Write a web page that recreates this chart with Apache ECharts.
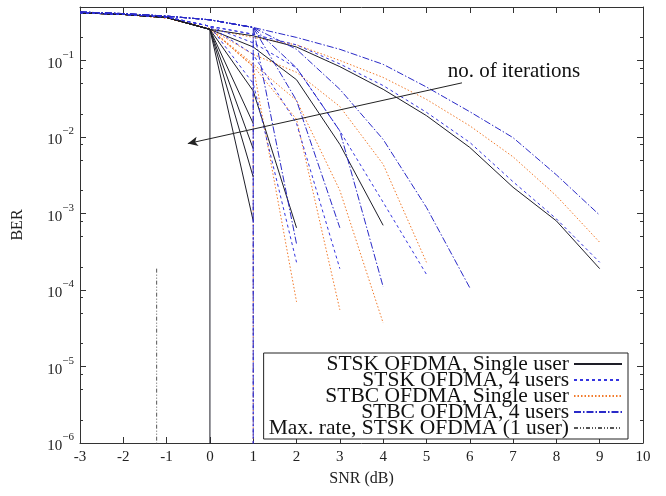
<!DOCTYPE html>
<html><head><meta charset="utf-8">
<script src="https://cdn.jsdelivr.net/npm/echarts@6/dist/echarts.min.js"></script>
<style>html,body{margin:0;padding:0;background:#fff}#c{width:666px;height:496px}</style>
</head><body><div id="c"></div>
<script>
// ---------- data ----------
const SNR = [-3,-2,-1,0,1,2,3,4,5,6,7,8,9];
const X_TICKS_MIN = -3, X_TICKS_MAX = 10;
const Y_DECADES = [-6,-5,-4,-3,-2,-1];      // BER = 10^n tick labels
const Y_MINOR = [2,5,8];                    // minor ticks inside each decade
const BER_MIN = 1e-6, BER_MAX = 0.5;

// BER per SNR point (one array per iteration curve); 0 = BER reaches zero (curve falls off the axis)
const stskSingle = [
  [0.42,0.40,0.365,0.255,0.21,0.15,0.083,0.042,0.019,0.0073,0.0022,0.0008,0.00019],
  [0.42,0.40,0.365,0.255,0.15,0.056,0.008,0.0007],
  [0.42,0.40,0.365,0.255,0.04,0.00065],
  [0.42,0.40,0.365,0.255,0.015],
  [0.42,0.40,0.365,0.255,0.007],
  [0.42,0.40,0.365,0.255,0.003],
  [0.42,0.40,0.365,0.255,0.0008],
  [0.42,0.40,0.365,0.255,0]
];
const stsk4Users = [
  [0.42,0.40,0.37,0.28,0.22,0.16,0.09,0.047,0.021,0.0085,0.0026,0.00085,0.00023],
  [0.42,0.40,0.37,0.28,0.17,0.08,0.012,0.0014,0.00016],
  [0.42,0.40,0.37,0.28,0.12,0.015,0.00019],
  [0.42,0.40,0.37,0.28,0.05,0.00023],
  [0.42,0.40,0.37,0.28,0.22,0]
];
const stbcSingle = [
  [0.42,0.40,0.36,0.26,0.2,0.16,0.1,0.06,0.031,0.014,0.0055,0.0017,0.00042],
  [0.42,0.40,0.36,0.26,0.12,0.07,0.025,0.0044,0.00023],
  [0.42,0.40,0.36,0.26,0.09,0.03,0.002,0.000037],
  [0.42,0.40,0.36,0.26,0.085,0.017,0.000055],
  [0.42,0.40,0.36,0.26,0.083,0.00007],
  [0.42,0.40,0.36,0.26,0.083,0]
];
const stbc4Users = [
  [0.43,0.41,0.38,0.34,0.27,0.2,0.14,0.089,0.045,0.0214,0.0098,0.0032,0.00095],
  [0.43,0.41,0.38,0.34,0.27,0.14,0.042,0.0093,0.0012,0.000107],
  [0.43,0.41,0.38,0.34,0.27,0.08,0.012,0.00011],
  [0.43,0.41,0.38,0.34,0.27,0.03,0.00065],
  [0.43,0.41,0.38,0.34,0.27,0.0004],
  [0.43,0.41,0.38,0.34,0.27,0]
];
const maxRateSnr = [-1.23,-1.23];
const maxRateBer = [0.00019,0];

const NAMES = ['STSK OFDMA, Single user','STSK OFDMA, 4 users','STBC OFDMA, Single user','STBC OFDMA, 4 users','Max. rate, STSK OFDMA (1 user)'];
const ANNOT_TEXT = 'no. of iterations';
const arrowFrom = [5.82, 0.051];   // [SNR, BER]
const arrowTo = [-0.51, 0.0082];
const annotPos = [7.02, 0.0718];

// ---------- build ----------
const FLOOR = -8;
const lg = b => b === 0 ? FLOOR : Math.log10(b);
function curvePoints(arr){
  const pts = [];
  arr.forEach((b,i) => {
    if (b == null) return;
    if (b === 0) pts.push([SNR[i-1], FLOOR]);
    else pts.push([SNR[i], Math.log10(b)]);
  });
  return pts;
}
const yMin = Math.log10(BER_MIN), yMax = Math.log10(BER_MAX);
const minorVals = [];
for (let e = -7; e <= 0; e++) for (const m of Y_MINOR) {
  const v = e + Math.log10(m);
  if (v > yMin + 1e-9 && v < yMax - 1e-9) minorVals.push(v);
}
const FONT = 'Liberation Serif';
const AX = '#333';
const axisLine = {show:true, onZero:false, lineStyle:{color:AX, width:1}};

const styles = [
  {color:'#1e1e28', type:'solid'},
  {color:'#3535e0', type:[3,3]},
  {color:'#f27a2a', type:[1.5,2]},
  {color:'#2a2ac8', type:[7,2,1.5,2]},
  {color:'#555555', type:[4,2,1,2,1,2]}
];
const families = [stskSingle, stsk4Users, stbcSingle, stbc4Users];
const series = [];
const drawOrder = [2,0,1,3];
drawOrder.forEach(fi => {
  families[fi].forEach(arr => {
    series.push({
      type:'line', name:NAMES[fi], data:curvePoints(arr), symbol:'none', showSymbol:false,
      lineStyle:{color:styles[fi].color, width:1, type:styles[fi].type},
      itemStyle:{color:styles[fi].color}, clip:true, animation:false, silent:true
    });
  });
});
series.push({
  type:'line', name:NAMES[4], data:maxRateSnr.map((x,i)=>[x, lg(maxRateBer[i])]), symbol:'none',
  lineStyle:{color:styles[4].color, width:1, type:styles[4].type}, itemStyle:{color:styles[4].color},
  clip:true, animation:false, silent:true,
  markLine:{silent:true, animation:false, symbol:['none','arrow'], symbolSize:[7,10],
    lineStyle:{color:'#222', width:1, type:'solid'}, label:{show:false},
    data:[[{coord:[arrowFrom[0], lg(arrowFrom[1])]},{coord:[arrowTo[0], lg(arrowTo[1])]}]]},
  markPoint:{silent:true, animation:false, symbol:'rect', symbolSize:1, itemStyle:{color:'rgba(0,0,0,0)'},
    label:{show:true, position:'inside', formatter:ANNOT_TEXT, fontFamily:FONT, fontSize:21, color:'#111'},
    data:[{coord:[annotPos[0], lg(annotPos[1])]}]}
});

const yLabel = v => '{b|10}{s|' + String(v).replace('-','\u2212') + '}';
const option = {
  backgroundColor:'#fff',
  animation:false,
  grid:{left:80, right:23, top:7, bottom:53},
  xAxis:[
    {type:'value', min:X_TICKS_MIN, max:X_TICKS_MAX, interval:1, position:'bottom', axisLine,
     axisTick:{inside:true, length:6, lineStyle:{color:AX}},
     axisLabel:{margin:7, fontFamily:FONT, fontSize:15, color:'#222'},
     splitLine:{show:false},
     name:'SNR (dB)', nameLocation:'middle', nameGap:28,
     nameTextStyle:{fontFamily:FONT, fontSize:16, color:'#222'}},
    {type:'value', min:X_TICKS_MIN, max:X_TICKS_MAX, interval:1, position:'top', axisLine,
     axisTick:{inside:true, length:6, lineStyle:{color:AX}}, axisLabel:{show:false}, splitLine:{show:false}}
  ],
  yAxis:[
    {type:'value', min:yMin, max:yMax, position:'left', axisLine,
     axisTick:{inside:true, length:6, customValues:Y_DECADES, lineStyle:{color:AX}},
     axisLabel:{customValues:Y_DECADES, formatter:yLabel, margin:6, color:'#222',
       rich:{b:{fontFamily:FONT, fontSize:15, lineHeight:22, verticalAlign:'bottom', color:'#222'},
             s:{fontFamily:FONT, fontSize:11, lineHeight:22, verticalAlign:'top', color:'#222'}}},
     splitLine:{show:false},
     name:'BER', nameLocation:'middle', nameGap:54, nameRotate:90,
     nameTextStyle:{fontFamily:FONT, fontSize:16, color:'#222'}},
    {type:'value', min:yMin, max:yMax, position:'right', axisLine,
     axisTick:{inside:true, length:6, customValues:Y_DECADES, lineStyle:{color:AX}},
     axisLabel:{show:false}, splitLine:{show:false}},
    {type:'value', min:yMin, max:yMax, position:'left', axisLine:{show:false, onZero:false},
     axisTick:{inside:true, length:3, customValues:minorVals, lineStyle:{color:AX}},
     axisLabel:{show:false}, splitLine:{show:false}},
    {type:'value', min:yMin, max:yMax, position:'right', axisLine:{show:false, onZero:false},
     axisTick:{inside:true, length:3, customValues:minorVals, lineStyle:{color:AX}},
     axisLabel:{show:false}, splitLine:{show:false}}
  ],
  legend:{
    data:NAMES, orient:'vertical', right:38, bottom:57, align:'right',
    itemWidth:48, itemHeight:10, itemGap:-6, padding:[0,5,0,5],
    itemStyle:{opacity:0},
    borderColor:'#222', borderWidth:1, backgroundColor:'#fff', selectedMode:false,
    textStyle:{fontFamily:FONT, fontSize:21.5, color:'#111'}
  },
  series
};
const chart = echarts.init(document.getElementById('c'), null, {renderer:'canvas'});
chart.setOption(option);
</script></body></html>
